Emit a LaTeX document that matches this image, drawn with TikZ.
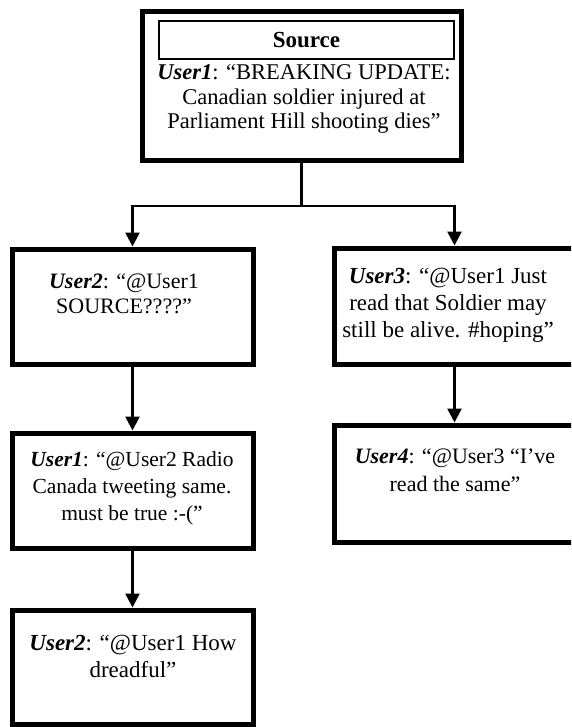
\documentclass[tikz,border=0pt]{standalone}
\usepackage{fontspec}
\setmainfont{Liberation Serif}
\usetikzlibrary{arrows.meta}
\begin{document}
\begin{tikzpicture}[x=1pt,y=-1pt,
  box/.style={draw, line width=5pt, inner sep=0pt},
  labelbox/.style={draw, line width=1.1pt, inner sep=0pt, font=\fontsize{23}{26}\selectfont},
  conn/.style={draw, line width=2.6pt},
  arr/.style={-{Triangle[length=14pt,width=14pt]}},
  txt/.style={inner sep=0pt, align=center, anchor=base, font=\fontsize{23}{27}\selectfont}]
\useasboundingbox (0,0) rectangle (571,727);
\clip (0,0) rectangle (571,727);
% boxes
\node[box, minimum width=319pt, minimum height=149pt] (src) at (301.5,86.5) {};
\node[labelbox, minimum width=295pt, minimum height=38pt] (srclabel) at (306.5,40) {\textbf{Source}};
\node[box, minimum width=241pt, minimum height=115pt] (u2a) at (132.5,306.5) {};
\node[box, minimum width=241pt, minimum height=116pt] (u3) at (454.5,306) {};
\node[box, minimum width=241pt, minimum height=115pt] (u1) at (132.5,490.5) {};
\node[box, minimum width=241pt, minimum height=117pt] (u4) at (454.5,483.5) {};
\node[box, minimum width=241pt, minimum height=114pt] (u2b) at (132.5,667) {};
% connectors
\coordinate (j) at (301.5,206);
\draw[conn] (src.south) -- (j);
\draw[conn, arr] (j) -| (u2a.north);
\draw[conn, arr] (j) -| (u3.north);
\draw[conn, arr] (u2a.south) -- (u1.north);
\draw[conn, arr] (u1.south) -- (u2b.north);
\draw[conn, arr] (u3.south) -- (u4.north);
% texts (base anchor = baseline of the last line)
\node[txt, font=\fontsize{22.5}{24.5}\selectfont] (srctext) at (304,129)
  {\textbf{\textit{User1}}: “BREAKING UPDATE:\\Canadian soldier injured at\\Parliament Hill shooting dies”};
\node[txt, font=\fontsize{22}{25}\selectfont] (u2atext) at (124,313)
  {\textbf{\textit{User2}}: “@User1\\SOURCE????”};
\node[txt] (u3text) at (448,337)
  {\textbf{\textit{User3}}: “@User1 Just\\read that Soldier may\\still be alive. \#hoping”};
\node[txt, font=\fontsize{21.5}{27}\selectfont] (u1text) at (132,520)
  {\textbf{\textit{User1}}: “@User2 Radio\\Canada tweeting same.\\must be true :-(”};
\node[txt, font=\fontsize{22}{27.5}\selectfont] (u4text) at (455,491)
  {\textbf{\textit{User4}}: “@User3 “I’ve\\read the same”};
\node[txt] (u2btext) at (133,677)
  {\textbf{\textit{User2}}: “@User1 How\\dreadful”};
\end{tikzpicture}
\end{document}
